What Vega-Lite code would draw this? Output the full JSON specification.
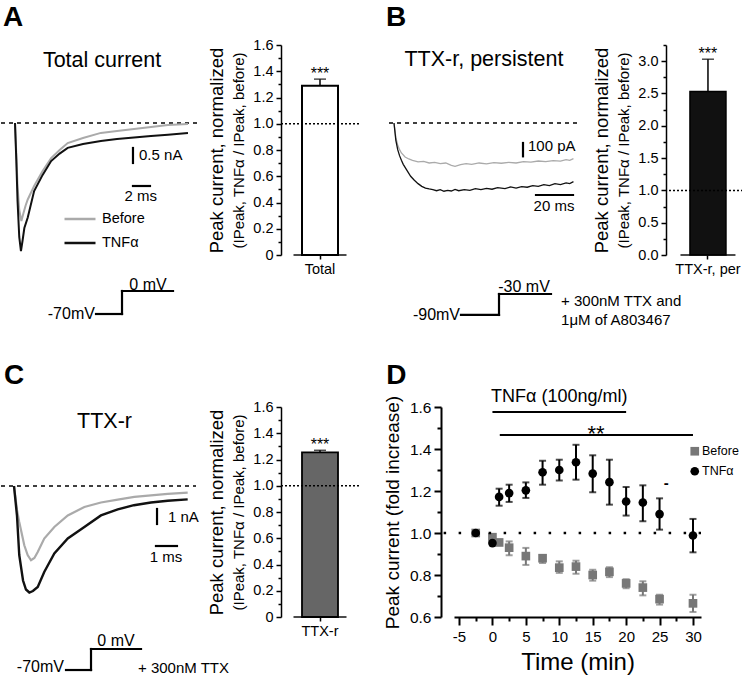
{
"$schema":"https://vega.github.io/schema/vega-lite/v6.json",
"padding":{"top":3,"left":0,"right":0,"bottom":0},
"background":"white",
"spacing":34,
"resolve":{"scale":{"color":"independent","shape":"independent"},"legend":{"color":"independent","shape":"independent"}},
"config":{
 "font":"Liberation Sans",
 "view":{"stroke":null},
 "axis":{"grid":false,"domainColor":"#000","tickColor":"#000","labelColor":"#000","titleColor":"#000","titleFontWeight":"normal","domainWidth":1.5,"tickWidth":1.5,"labelFontSize":14.5},
 "legend":{"labelColor":"#000","padding":0},
 "title":{"color":"#000"}
},
"vconcat":[
{"hconcat":[
 {"width":250,"height":278,
  "layer":[
   {"data":{"values":[
     {"k":"base","t1":-1.647,"t2":21.88,"I1":0,"I2":0},
     {"k":"bar","t1":13.88,"t2":13.88,"I1":-0.833,"I2":-1.333},
     {"k":"bar","t1":13.88,"t2":15.88,"I1":-2.1,"I2":-2.1},
     {"k":"step","t1":9.53,"t2":12.59,"I1":-6.367,"I2":-6.367},
     {"k":"step","t1":12.59,"t2":12.59,"I1":-6.367,"I2":-5.6},
     {"k":"step","t1":12.59,"t2":18.59,"I1":-5.6,"I2":-5.6}]},
    "encoding":{"x":{"field":"t1","type":"quantitative","scale":{"domain":[-1.647,27.765],"nice":false,"zero":false},"axis":null},"x2":{"field":"t2"},
                "y":{"field":"I1","type":"quantitative","scale":{"domain":[-6.667,2.6],"nice":false,"zero":false},"axis":null},"y2":{"field":"I2"}},
    "layer":[
     {"transform":[{"filter":"datum.k == 'base'"}],"mark":{"type":"rule","strokeDash":[4,4],"strokeWidth":1.5,"color":"#000"}},
     {"transform":[{"filter":"datum.k != 'base'"}],"mark":{"type":"rule","strokeWidth":2.2,"strokeCap":"square","color":"#000"}}
    ]},
   {"data":{"values":[
     {"g":"Before","t":0,"I":0},{"g":"Before","t":0.15,"I":-1.0},{"g":"Before","t":0.3,"I":-2.1},{"g":"Before","t":0.5,"I":-2.9},{"g":"Before","t":0.75,"I":-3.27},{"g":"Before","t":1.0,"I":-3.0},{"g":"Before","t":1.25,"I":-2.75},{"g":"Before","t":1.5,"I":-2.55},{"g":"Before","t":2.25,"I":-2.1},{"g":"Before","t":3.25,"I":-1.6},{"g":"Before","t":4.25,"I":-1.17},{"g":"Before","t":5.25,"I":-0.9},{"g":"Before","t":6.2,"I":-0.67},{"g":"Before","t":8,"I":-0.5},{"g":"Before","t":10.1,"I":-0.33},{"g":"Before","t":12,"I":-0.27},{"g":"Before","t":14,"I":-0.2},{"g":"Before","t":16,"I":-0.13},{"g":"Before","t":18,"I":-0.07},{"g":"Before","t":20.35,"I":-0.03},
     {"g":"TNFα","t":0,"I":0},{"g":"TNFα","t":0.15,"I":-1.2},{"g":"TNFα","t":0.3,"I":-2.6},{"g":"TNFα","t":0.5,"I":-3.8},{"g":"TNFα","t":0.7,"I":-4.27},{"g":"TNFα","t":0.9,"I":-3.9},{"g":"TNFα","t":1.1,"I":-3.5},{"g":"TNFα","t":1.5,"I":-3.15},{"g":"TNFα","t":2.25,"I":-2.27},{"g":"TNFα","t":3.25,"I":-1.73},{"g":"TNFα","t":4.25,"I":-1.27},{"g":"TNFα","t":5.25,"I":-1.02},{"g":"TNFα","t":6.2,"I":-0.83},{"g":"TNFα","t":8,"I":-0.7},{"g":"TNFα","t":10.1,"I":-0.6},{"g":"TNFα","t":12,"I":-0.53},{"g":"TNFα","t":14,"I":-0.48},{"g":"TNFα","t":16,"I":-0.43},{"g":"TNFα","t":18,"I":-0.39},{"g":"TNFα","t":20.35,"I":-0.33}]},
    "mark":{"type":"line","strokeWidth":2},
    "encoding":{"x":{"field":"t","type":"quantitative","axis":null},"y":{"field":"I","type":"quantitative","axis":null},
     "color":{"field":"g","type":"nominal","scale":{"domain":["Before","TNFα"],"range":["#aaaaaa","#111111"]},
      "legend":{"orient":"none","legendX":62,"legendY":157,"title":null,"symbolType":"stroke","symbolSize":961,"symbolStrokeWidth":2.5,"labelFontSize":14.5,"labelOffset":5,"rowPadding":-5,"padding":0}}}},
   {"data":{"values":[
     {"k":"letter","label":"A","t":-1.41,"I":3.233},
     {"k":"title","label":"Total current","t":10.24,"I":2.083},
     {"k":"left","label":"0.5 nA","t":14.59,"I":-1.067},
     {"k":"center","label":"2 ms","t":14.8,"I":-2.433},
     {"k":"right","label":"-70mV","t":9.4,"I":-6.367},
     {"k":"vcenter","label":"0 mV","t":15.65,"I":-5.4}]},
    "encoding":{"x":{"field":"t","type":"quantitative","axis":null},"y":{"field":"I","type":"quantitative","axis":null},"text":{"field":"label"}},
    "layer":[
     {"transform":[{"filter":"datum.k == 'letter'"}],"mark":{"type":"text","fontSize":28,"fontWeight":"bold","align":"left","baseline":"alphabetic","color":"#000"}},
     {"transform":[{"filter":"datum.k == 'title'"}],"mark":{"type":"text","fontSize":21.5,"align":"center","baseline":"middle","color":"#000"}},
     {"transform":[{"filter":"datum.k == 'left'"}],"mark":{"type":"text","fontSize":15,"align":"left","baseline":"middle","color":"#000"}},
     {"transform":[{"filter":"datum.k == 'center'"}],"mark":{"type":"text","fontSize":15,"align":"center","baseline":"middle","color":"#000"}},
     {"transform":[{"filter":"datum.k == 'right'"}],"mark":{"type":"text","fontSize":16,"align":"right","baseline":"middle","color":"#000"}},
     {"transform":[{"filter":"datum.k == 'vcenter'"}],"mark":{"type":"text","fontSize":16,"align":"center","baseline":"middle","color":"#000"}}
    ]}
  ]},
 {"width":78,"height":210,
  "data":{"values":[{"cat":"Total","value":1.29,"hi":1.34,"stars":"***"}]},
  "resolve":{"scale":{"y":"independent"},"axis":{"y":"independent"}},
  "layer":[
   {"encoding":{"x":{"field":"cat","type":"nominal","scale":{"paddingInner":0,"paddingOuter":0.5,"align":0.5},"axis":{"domain":false,"tickSize":4,"labelAngle":0,"labelPadding":3,"labelFontSize":14.5,"title":null}}},
    "layer":[
     {"mark":{"type":"bar","width":36,"fill":"#ffffff","stroke":"#000","strokeWidth":2},
      "encoding":{"y":{"field":"value","type":"quantitative","scale":{"domain":[0,1.6],"nice":false},
       "axis":{"title":"(IPeak, TNFα / IPeak, before)","titleFontSize":15,"titlePadding":6,"tickCount":50,"values":[0,0.2,0.4,0.6,0.8,1.0,1.2,1.4,1.6],
        "labelExpr":"datum.value == 0 ? '0' : format(datum.value, '.1f')","tickSize":5,"labelPadding":3}}}},
     {"mark":{"type":"rule","strokeWidth":1.5,"color":"#000"},"encoding":{"y":{"field":"value","type":"quantitative"},"y2":{"field":"hi"}}},
     {"mark":{"type":"tick","orient":"horizontal","size":12,"thickness":1.5,"color":"#000"},"encoding":{"y":{"field":"hi","type":"quantitative"}}},
     {"mark":{"type":"text","fontSize":16,"baseline":"alphabetic","color":"#000"},"encoding":{"y":{"field":"hi","type":"quantitative"},"text":{"field":"stars"}}},
     {"mark":{"type":"tick","orient":"horizontal","size":53,"thickness":2,"color":"#000"},"encoding":{"y":{"datum":0,"type":"quantitative"}}}
    ]},
   {"mark":{"type":"rule","strokeDash":[2,2],"strokeWidth":1.5,"color":"#000"},
    "encoding":{"y":{"datum":1,"type":"quantitative","scale":{"domain":[0,1.6],"nice":false},
     "axis":{"orient":"left","labels":false,"ticks":true,"tickSize":3,"tickCount":50,"values":[0.1,0.3,0.5,0.7,0.9,1.1,1.3,1.5],"domain":false,"title":"Peak current, normalized","titleFontSize":18.5,"titlePadding":51}}}}
  ]},
 {"width":247,"height":278,
  "layer":[
   {"data":{"values":[
     {"k":"base","t1":-2.703,"t2":101.1,"I1":0,"I2":0},
     {"k":"bar","t1":69.73,"t2":69.73,"I1":-150,"I2":-250},
     {"k":"bar","t1":76.76,"t2":96.76,"I1":-540,"I2":-540},
     {"k":"step","t1":36.2,"t2":56.76,"I1":-1440,"I2":-1440},
     {"k":"step","t1":56.76,"t2":56.76,"I1":-1440,"I2":-1282.7},
     {"k":"step","t1":56.76,"t2":84.86,"I1":-1282.7,"I2":-1282.7}]},
    "encoding":{"x":{"field":"t1","type":"quantitative","scale":{"domain":[-2.703,130.81],"nice":false,"zero":false},"axis":null},"x2":{"field":"t2"},
                "y":{"field":"I1","type":"quantitative","scale":{"domain":[-1500.4,585.1],"nice":false,"zero":false},"axis":null},"y2":{"field":"I2"}},
    "layer":[
     {"transform":[{"filter":"datum.k == 'base'"}],"mark":{"type":"rule","strokeDash":[4,4],"strokeWidth":1.5,"color":"#000"}},
     {"transform":[{"filter":"datum.k != 'base'"}],"mark":{"type":"rule","strokeWidth":2.2,"strokeCap":"square","color":"#000"}}
    ]},
   {"data":{"values":[
     {"g":"Before","t":0,"I":0},{"g":"Before","t":1,"I":-110},{"g":"Before","t":2,"I":-165},{"g":"Before","t":3,"I":-200},{"g":"Before","t":4,"I":-225},{"g":"Before","t":6,"I":-255},{"g":"Before","t":8,"I":-270},{"g":"Before","t":10,"I":-280},{"g":"Before","t":13,"I":-292},{"g":"Before","t":16,"I":-288},{"g":"Before","t":19,"I":-300},{"g":"Before","t":22,"I":-296},{"g":"Before","t":25,"I":-305},{"g":"Before","t":28,"I":-300},{"g":"Before","t":31,"I":-318},{"g":"Before","t":33,"I":-325},{"g":"Before","t":36,"I":-312},{"g":"Before","t":39,"I":-305},{"g":"Before","t":42,"I":-310},{"g":"Before","t":46,"I":-300},{"g":"Before","t":50,"I":-306},{"g":"Before","t":54,"I":-298},{"g":"Before","t":58,"I":-302},{"g":"Before","t":62,"I":-295},{"g":"Before","t":66,"I":-300},{"g":"Before","t":70,"I":-290},{"g":"Before","t":74,"I":-294},{"g":"Before","t":78,"I":-285},{"g":"Before","t":82,"I":-290},{"g":"Before","t":86,"I":-282},{"g":"Before","t":90,"I":-286},{"g":"Before","t":93,"I":-275},{"g":"Before","t":95,"I":-280},{"g":"Before","t":97,"I":-268},
     {"g":"TNFα","t":0,"I":0},{"g":"TNFα","t":1,"I":-130},{"g":"TNFα","t":2,"I":-200},{"g":"TNFα","t":3,"I":-245},{"g":"TNFα","t":4,"I":-280},{"g":"TNFα","t":5,"I":-310},{"g":"TNFα","t":7,"I":-355},{"g":"TNFα","t":9,"I":-400},{"g":"TNFα","t":11,"I":-430},{"g":"TNFα","t":13,"I":-455},{"g":"TNFα","t":15,"I":-475},{"g":"TNFα","t":17,"I":-488},{"g":"TNFα","t":19,"I":-495},{"g":"TNFα","t":21,"I":-500},{"g":"TNFα","t":23,"I":-508},{"g":"TNFα","t":25,"I":-500},{"g":"TNFα","t":27,"I":-512},{"g":"TNFα","t":29,"I":-505},{"g":"TNFα","t":31,"I":-510},{"g":"TNFα","t":33,"I":-498},{"g":"TNFα","t":35,"I":-508},{"g":"TNFα","t":38,"I":-500},{"g":"TNFα","t":41,"I":-505},{"g":"TNFα","t":44,"I":-492},{"g":"TNFα","t":47,"I":-500},{"g":"TNFα","t":50,"I":-490},{"g":"TNFα","t":53,"I":-497},{"g":"TNFα","t":56,"I":-485},{"g":"TNFα","t":60,"I":-492},{"g":"TNFα","t":63,"I":-480},{"g":"TNFα","t":66,"I":-488},{"g":"TNFα","t":69,"I":-478},{"g":"TNFα","t":72,"I":-482},{"g":"TNFα","t":75,"I":-470},{"g":"TNFα","t":78,"I":-476},{"g":"TNFα","t":81,"I":-462},{"g":"TNFα","t":84,"I":-470},{"g":"TNFα","t":87,"I":-455},{"g":"TNFα","t":90,"I":-462},{"g":"TNFα","t":93,"I":-450},{"g":"TNFα","t":95,"I":-455},{"g":"TNFα","t":97,"I":-440}]},
    "encoding":{"x":{"field":"t","type":"quantitative","axis":null},"y":{"field":"I","type":"quantitative","axis":null}},
    "layer":[
     {"transform":[{"filter":"datum.g == 'Before'"}],"mark":{"type":"line","strokeWidth":1.3,"color":"#aaaaaa"}},
     {"transform":[{"filter":"datum.g == 'TNFα'"}],"mark":{"type":"line","strokeWidth":1.3,"color":"#111111"}}
    ]},
   {"data":{"values":[
     {"k":"letter","label":"B","t":-4.32,"I":727.7},
     {"k":"title","label":"TTX-r, persistent","t":48.6,"I":472.6},
     {"k":"left","label":"100 pA","t":72.4,"I":-172},
     {"k":"center","label":"20 ms","t":86.5,"I":-622},
     {"k":"right","label":"-90mV","t":35.7,"I":-1440},
     {"k":"vcenter","label":"-30 mV","t":70.3,"I":-1230},
     {"k":"left","label":"+ 300nM TTX and","t":90.3,"I":-1335},
     {"k":"left","label":"1μM of A803467","t":90.3,"I":-1477.8}]},
    "encoding":{"x":{"field":"t","type":"quantitative","axis":null},"y":{"field":"I","type":"quantitative","axis":null},"text":{"field":"label"}},
    "layer":[
     {"transform":[{"filter":"datum.k == 'letter'"}],"mark":{"type":"text","fontSize":28,"fontWeight":"bold","align":"left","baseline":"alphabetic","color":"#000"}},
     {"transform":[{"filter":"datum.k == 'title'"}],"mark":{"type":"text","fontSize":21.5,"align":"center","baseline":"middle","color":"#000"}},
     {"transform":[{"filter":"datum.k == 'left'"}],"mark":{"type":"text","fontSize":15,"align":"left","baseline":"middle","color":"#000"}},
     {"transform":[{"filter":"datum.k == 'center'"}],"mark":{"type":"text","fontSize":15,"align":"center","baseline":"middle","color":"#000"}},
     {"transform":[{"filter":"datum.k == 'right'"}],"mark":{"type":"text","fontSize":16,"align":"right","baseline":"middle","color":"#000"}},
     {"transform":[{"filter":"datum.k == 'vcenter'"}],"mark":{"type":"text","fontSize":16,"align":"center","baseline":"middle","color":"#000"}}
    ]}
  ]},
 {"width":77,"height":210,
  "data":{"values":[{"cat":"TTX-r, per","value":2.53,"hi":3.03,"stars":"***"}]},
  "resolve":{"scale":{"y":"independent"},"axis":{"y":"independent"}},
  "layer":[
   {"encoding":{"x":{"field":"cat","type":"nominal","scale":{"paddingInner":0,"paddingOuter":0.5,"align":0.59},"axis":{"domain":false,"tickSize":4,"labelAngle":0,"labelPadding":3,"labelFontSize":14.5,"title":null}}},
    "layer":[
     {"mark":{"type":"bar","width":36,"fill":"#111111","stroke":"#000","strokeWidth":1.5},
      "encoding":{"y":{"field":"value","type":"quantitative","scale":{"domain":[0,3.25],"nice":false},
       "axis":{"title":"(IPeak, TNFα / IPeak, before)","titleFontSize":15,"titlePadding":6,"tickCount":50,"values":[0,0.5,1,1.5,2,2.5,3],
        "format":".1f","tickSize":5,"labelPadding":3}}}},
     {"mark":{"type":"rule","strokeWidth":1.5,"color":"#000"},"encoding":{"y":{"field":"value","type":"quantitative"},"y2":{"field":"hi"}}},
     {"mark":{"type":"tick","orient":"horizontal","size":12,"thickness":1.5,"color":"#000"},"encoding":{"y":{"field":"hi","type":"quantitative"}}},
     {"mark":{"type":"text","fontSize":16,"baseline":"alphabetic","color":"#000"},"encoding":{"y":{"field":"hi","type":"quantitative"},"text":{"field":"stars"}}},
     {"mark":{"type":"tick","orient":"horizontal","size":55,"thickness":2,"color":"#000"},"encoding":{"y":{"datum":0,"type":"quantitative"}}}
    ]},
   {"mark":{"type":"rule","strokeDash":[2,2],"strokeWidth":1.5,"color":"#000"},
    "encoding":{"y":{"datum":1,"type":"quantitative","scale":{"domain":[0,3.25],"nice":false},
     "axis":{"orient":"left","labels":false,"ticks":true,"tickSize":3,"tickCount":50,"values":[0.25,0.75,1.25,1.75,2.25,2.75,3.25],"domain":false,"title":"Peak current, normalized","titleFontSize":18.5,"titlePadding":51}}}}
  ]}
],"spacing":30,"bounds":"flush","resolve":{"scale":{"color":"independent","shape":"independent"},"legend":{"color":"independent","shape":"independent"}}},
{"hconcat":[
 {"width":185,"height":270,
  "layer":[
   {"data":{"values":[
     {"k":"base","t1":-0.619,"t2":8.667,"I1":0,"I2":0},
     {"k":"bar","t1":6.81,"t2":6.81,"I1":-1.533,"I2":-2.533},
     {"k":"bar","t1":6.76,"t2":7.76,"I1":-4.0,"I2":-4.0},
     {"k":"step","t1":2.476,"t2":3.667,"I1":-12.267,"I2":-12.267},
     {"k":"step","t1":3.667,"t2":3.667,"I1":-12.267,"I2":-10.867},
     {"k":"step","t1":3.667,"t2":6.048,"I1":-10.867,"I2":-10.867}]},
    "encoding":{"x":{"field":"t1","type":"quantitative","scale":{"domain":[-0.619,8.19],"nice":false,"zero":false},"axis":null},"x2":{"field":"t2"},
                "y":{"field":"I1","type":"quantitative","scale":{"domain":[-12.733,5.267],"nice":false,"zero":false},"axis":null},"y2":{"field":"I2"}},
    "layer":[
     {"transform":[{"filter":"datum.k == 'base'"}],"mark":{"type":"rule","strokeDash":[4,4],"strokeWidth":1.5,"color":"#000"}},
     {"transform":[{"filter":"datum.k != 'base'"}],"mark":{"type":"rule","strokeWidth":2.2,"strokeCap":"square","color":"#000"}}
    ]},
   {"data":{"values":[
     {"g":"Before","t":0,"I":0},{"g":"Before","t":0.143,"I":-1.6},{"g":"Before","t":0.25,"I":-2.4},{"g":"Before","t":0.49,"I":-3.95},{"g":"Before","t":0.65,"I":-4.6},{"g":"Before","t":0.81,"I":-4.95},{"g":"Before","t":0.97,"I":-4.8},{"g":"Before","t":1.13,"I":-4.4},{"g":"Before","t":1.44,"I":-3.5},{"g":"Before","t":1.92,"I":-2.73},{"g":"Before","t":2.56,"I":-1.96},{"g":"Before","t":3.35,"I":-1.4},{"g":"Before","t":4.14,"I":-1.1},{"g":"Before","t":4.94,"I":-0.91},{"g":"Before","t":5.73,"I":-0.73},{"g":"Before","t":6.52,"I":-0.62},{"g":"Before","t":7.32,"I":-0.53},{"g":"Before","t":8.27,"I":-0.44},
     {"g":"TNFα","t":0,"I":0},{"g":"TNFα","t":0.143,"I":-2.0},{"g":"TNFα","t":0.25,"I":-4.6},{"g":"TNFα","t":0.43,"I":-6.3},{"g":"TNFα","t":0.57,"I":-6.9},{"g":"TNFα","t":0.73,"I":-7.1},{"g":"TNFα","t":0.9,"I":-7.0},{"g":"TNFα","t":1.13,"I":-6.73},{"g":"TNFα","t":1.44,"I":-5.73},{"g":"TNFα","t":1.92,"I":-4.5},{"g":"TNFα","t":2.56,"I":-3.5},{"g":"TNFα","t":3.35,"I":-2.73},{"g":"TNFα","t":4.14,"I":-1.96},{"g":"TNFα","t":4.94,"I":-1.56},{"g":"TNFα","t":5.71,"I":-1.28},{"g":"TNFα","t":6.52,"I":-1.1},{"g":"TNFα","t":7.32,"I":-0.98},{"g":"TNFα","t":8.27,"I":-0.89}]},
    "encoding":{"x":{"field":"t","type":"quantitative","axis":null},"y":{"field":"I","type":"quantitative","axis":null}},
    "layer":[
     {"transform":[{"filter":"datum.g == 'Before'"}],"mark":{"type":"line","strokeWidth":2.2,"color":"#aaaaaa"}},
     {"transform":[{"filter":"datum.g == 'TNFα'"}],"mark":{"type":"line","strokeWidth":2.4,"color":"#111111"}}
    ]},
   {"data":{"values":[
     {"k":"letter","label":"C","t":-0.476,"I":6.8},
     {"k":"title","label":"TTX-r","t":4.31,"I":4.267},
     {"k":"left","label":"1 nA","t":7.33,"I":-2.067},
     {"k":"center","label":"1 ms","t":7.24,"I":-4.733},
     {"k":"right","label":"-70mV","t":2.38,"I":-12.067},
     {"k":"vcenter","label":"0 mV","t":4.857,"I":-10.333},
     {"k":"left","label":"+ 300nM TTX","t":5.905,"I":-12.133}]},
    "encoding":{"x":{"field":"t","type":"quantitative","axis":null},"y":{"field":"I","type":"quantitative","axis":null},"text":{"field":"label"}},
    "layer":[
     {"transform":[{"filter":"datum.k == 'letter'"}],"mark":{"type":"text","fontSize":28,"fontWeight":"bold","align":"left","baseline":"alphabetic","color":"#000"}},
     {"transform":[{"filter":"datum.k == 'title'"}],"mark":{"type":"text","fontSize":21.5,"align":"center","baseline":"middle","color":"#000"}},
     {"transform":[{"filter":"datum.k == 'left'"}],"mark":{"type":"text","fontSize":15,"align":"left","baseline":"middle","color":"#000"}},
     {"transform":[{"filter":"datum.k == 'center'"}],"mark":{"type":"text","fontSize":15,"align":"center","baseline":"middle","color":"#000"}},
     {"transform":[{"filter":"datum.k == 'right'"}],"mark":{"type":"text","fontSize":16,"align":"right","baseline":"middle","color":"#000"}},
     {"transform":[{"filter":"datum.k == 'vcenter'"}],"mark":{"type":"text","fontSize":16,"align":"center","baseline":"middle","color":"#000"}}
    ]}
  ]},
 {"width":78,"height":210,
  "data":{"values":[{"cat":"TTX-r","value":1.255,"hi":1.27,"stars":"***"}]},
  "resolve":{"scale":{"y":"independent"},"axis":{"y":"independent"}},
  "layer":[
   {"encoding":{"x":{"field":"cat","type":"nominal","scale":{"paddingInner":0,"paddingOuter":0.5,"align":0.5},"axis":{"domain":false,"tickSize":4,"labelAngle":0,"labelPadding":3,"labelFontSize":14.5,"title":null}}},
    "layer":[
     {"mark":{"type":"bar","width":36,"fill":"#666666","stroke":"#000","strokeWidth":1.8},
      "encoding":{"y":{"field":"value","type":"quantitative","scale":{"domain":[0,1.6],"nice":false},
       "axis":{"title":"(IPeak, TNFα / IPeak, before)","titleFontSize":15,"titlePadding":6,"tickCount":50,"values":[0,0.2,0.4,0.6,0.8,1.0,1.2,1.4,1.6],
        "labelExpr":"datum.value == 0 ? '0' : format(datum.value, '.1f')","tickSize":5,"labelPadding":3}}}},
     {"mark":{"type":"rule","strokeWidth":1.5,"color":"#000"},"encoding":{"y":{"field":"value","type":"quantitative"},"y2":{"field":"hi"}}},
     {"mark":{"type":"tick","orient":"horizontal","size":12,"thickness":1.5,"color":"#000"},"encoding":{"y":{"field":"hi","type":"quantitative"}}},
     {"mark":{"type":"text","fontSize":16,"baseline":"alphabetic","color":"#000"},"encoding":{"y":{"field":"hi","type":"quantitative"},"text":{"field":"stars"}}},
     {"mark":{"type":"tick","orient":"horizontal","size":53,"thickness":2,"color":"#000"},"encoding":{"y":{"datum":0,"type":"quantitative"}}}
    ]},
   {"mark":{"type":"rule","strokeDash":[2,2],"strokeWidth":1.5,"color":"#000"},
    "encoding":{"y":{"datum":1,"type":"quantitative","scale":{"domain":[0,1.6],"nice":false},
     "axis":{"orient":"left","labels":false,"ticks":true,"tickSize":3,"tickCount":50,"values":[0.1,0.3,0.5,0.7,0.9,1.1,1.3,1.5],"domain":false,"title":"Peak current, normalized","titleFontSize":18.5,"titlePadding":51}}}}
  ]},
 {"width":247,"height":210,
  "resolve":{"scale":{"x":"independent","y":"independent"},"axis":{"x":"independent","y":"independent"}},
  "layer":[
   {"layer":[
     {"data":{"values":[
       {"g":"Before","time":-2.5,"v":1.0,"lo":1.0,"hi":1.0},
       {"g":"Before","time":0,"v":0.98,"lo":0.975,"hi":0.985},
       {"g":"Before","time":1,"v":0.955,"lo":0.95,"hi":0.96},
       {"g":"Before","time":2.5,"v":0.93,"lo":0.894,"hi":0.96},
       {"g":"Before","time":5,"v":0.89,"lo":0.848,"hi":0.929},
       {"g":"Before","time":7.5,"v":0.88,"lo":0.857,"hi":0.894},
       {"g":"Before","time":10,"v":0.835,"lo":0.81,"hi":0.865},
       {"g":"Before","time":12.5,"v":0.84,"lo":0.806,"hi":0.868},
       {"g":"Before","time":15,"v":0.80,"lo":0.773,"hi":0.825},
       {"g":"Before","time":17.5,"v":0.815,"lo":0.79,"hi":0.837},
       {"g":"Before","time":20,"v":0.76,"lo":0.737,"hi":0.78},
       {"g":"Before","time":22.5,"v":0.74,"lo":0.703,"hi":0.77},
       {"g":"Before","time":25,"v":0.685,"lo":0.659,"hi":0.706},
       {"g":"Before","time":30,"v":0.665,"lo":0.624,"hi":0.706},
       {"g":"TNFα","time":-2.5,"v":1.0,"lo":1.0,"hi":1.0},
       {"g":"TNFα","time":0,"v":0.952,"lo":0.952,"hi":0.952},
       {"g":"TNFα","time":1,"v":1.172,"lo":1.13,"hi":1.211},
       {"g":"TNFα","time":2.5,"v":1.19,"lo":1.148,"hi":1.23},
       {"g":"TNFα","time":5,"v":1.203,"lo":1.167,"hi":1.241},
       {"g":"TNFα","time":7.5,"v":1.289,"lo":1.23,"hi":1.344},
       {"g":"TNFα","time":10,"v":1.30,"lo":1.25,"hi":1.349},
       {"g":"TNFα","time":12.5,"v":1.337,"lo":1.254,"hi":1.42},
       {"g":"TNFα","time":15,"v":1.283,"lo":1.194,"hi":1.37},
       {"g":"TNFα","time":17.5,"v":1.242,"lo":1.135,"hi":1.349},
       {"g":"TNFα","time":20,"v":1.15,"lo":1.083,"hi":1.219},
       {"g":"TNFα","time":22.5,"v":1.145,"lo":1.056,"hi":1.227},
       {"g":"TNFα","time":25,"v":1.09,"lo":1.016,"hi":1.165},
       {"g":"TNFα","time":30,"v":0.988,"lo":0.908,"hi":1.067}]},
      "encoding":{"x":{"field":"time","type":"quantitative","scale":{"domain":[-5.75,31.2],"nice":false,"zero":false},
        "axis":{"title":"Time (min)","titleFontSize":24,"titlePadding":6,"tickCount":50,"values":[-5,0,5,10,15,20,25,30],
         "labelExpr":"'' + datum.value","labelFontSize":15,"labelPadding":4,"domainWidth":2,"tickWidth":2,"tickSize":8}}},
      "layer":[
       {"transform":[{"filter":"datum.g == 'Before'"}],"mark":{"type":"rule","strokeWidth":2,"color":"#777777"},
        "encoding":{"y":{"field":"lo","type":"quantitative","scale":{"domain":[0.6,1.6],"nice":false,"zero":false},
         "axis":{"title":"Peak current (fold increase)","titleFontSize":19,"titlePadding":7,"offset":13,"tickCount":50,"values":[0.6,0.8,1.0,1.2,1.4,1.6],
          "format":".1f","labelFontSize":15.5,"labelPadding":3,"domainWidth":2,"tickWidth":2,"tickSize":7}},"y2":{"field":"hi"}}},
       {"transform":[{"filter":"datum.g == 'Before'"}],"mark":{"type":"tick","orient":"horizontal","size":7,"thickness":2,"color":"#777777"},"encoding":{"y":{"field":"lo","type":"quantitative"}}},
       {"transform":[{"filter":"datum.g == 'Before'"}],"mark":{"type":"tick","orient":"horizontal","size":7,"thickness":2,"color":"#777777"},"encoding":{"y":{"field":"hi","type":"quantitative"}}},
       {"transform":[{"filter":"datum.g == 'TNFα'"}],"mark":{"type":"rule","strokeWidth":2,"color":"#000"},"encoding":{"y":{"field":"lo","type":"quantitative"},"y2":{"field":"hi"}}},
       {"transform":[{"filter":"datum.g == 'TNFα'"}],"mark":{"type":"tick","orient":"horizontal","size":7,"thickness":2,"color":"#000"},"encoding":{"y":{"field":"lo","type":"quantitative"}}},
       {"transform":[{"filter":"datum.g == 'TNFα'"}],"mark":{"type":"tick","orient":"horizontal","size":7,"thickness":2,"color":"#000"},"encoding":{"y":{"field":"hi","type":"quantitative"}}},
       {"mark":{"type":"point","filled":true,"opacity":1,"size":75},
        "encoding":{"y":{"field":"v","type":"quantitative"},
         "color":{"field":"g","type":"nominal","scale":{"domain":["Before","TNFα"],"range":["#777777","#000000"]},
          "legend":{"orient":"none","legendX":234.5,"legendY":38,"title":null,"labelFontSize":12.5,"labelOffset":1,"rowPadding":7,"symbolSize":75,"padding":0}},
         "shape":{"field":"g","type":"nominal","scale":{"domain":["Before","TNFα"],"range":["square","circle"]}}}}
      ]},
     {"data":{"values":[{"x1":0,"x2":20,"y":1.576},{"x1":1.1,"x2":30,"y":1.467}]},
      "mark":{"type":"rule","strokeWidth":2,"color":"#000"},
      "encoding":{"x":{"field":"x1","type":"quantitative"},"x2":{"field":"x2"},"y":{"field":"y","type":"quantitative"}}},
     {"data":{"values":[{"k":"d","label":"D","x":-15.9,"y":1.7095},{"k":"a","label":"TNFα (100ng/ml)","x":10,"y":1.65},{"k":"b","label":"**","x":15.5,"y":1.47},{"k":"c","label":"-","x":26,"y":1.238}]},
      "encoding":{"x":{"field":"x","type":"quantitative"},"y":{"field":"y","type":"quantitative"},"text":{"field":"label"}},
      "layer":[
       {"transform":[{"filter":"datum.k == 'd'"}],"mark":{"type":"text","fontSize":28,"fontWeight":"bold","align":"left","baseline":"alphabetic","color":"#000"}},
       {"transform":[{"filter":"datum.k == 'a'"}],"mark":{"type":"text","fontSize":18,"align":"center","baseline":"middle","color":"#000"}},
       {"transform":[{"filter":"datum.k == 'b'"}],"mark":{"type":"text","fontSize":22,"align":"center","baseline":"middle","color":"#000"}},
       {"transform":[{"filter":"datum.k == 'c'"}],"mark":{"type":"text","fontSize":15,"fontWeight":"bold","align":"center","baseline":"middle","color":"#000"}}
      ]}
   ]},
   {"data":{"values":[{"ref":1}]},
    "mark":{"type":"rule","strokeDash":[2.5,12.5],"strokeWidth":2.5,"color":"#000"},
    "encoding":{
     "x":{"datum":-7.3,"type":"quantitative","scale":{"domain":[-5.75,31.2],"nice":false,"zero":false},
      "axis":{"orient":"bottom","title":null,"labels":false,"domain":false,"ticks":true,"tickSize":4,"tickWidth":2,"tickCount":50,"values":[-2.5,2.5,7.5,12.5,17.5,22.5,27.5]}},
     "x2":{"datum":31.2},
     "y":{"field":"ref","type":"quantitative","scale":{"domain":[0.6,1.6],"nice":false,"zero":false},
      "axis":{"orient":"left","title":null,"labels":false,"domain":false,"ticks":true,"tickSize":4,"tickWidth":2,"offset":13,"tickCount":50,"values":[0.7,0.9,1.1,1.3,1.5]}}}}
  ]}
],"spacing":95,"bounds":"flush","resolve":{"scale":{"color":"independent","shape":"independent"},"legend":{"color":"independent","shape":"independent"}}}
]
}
